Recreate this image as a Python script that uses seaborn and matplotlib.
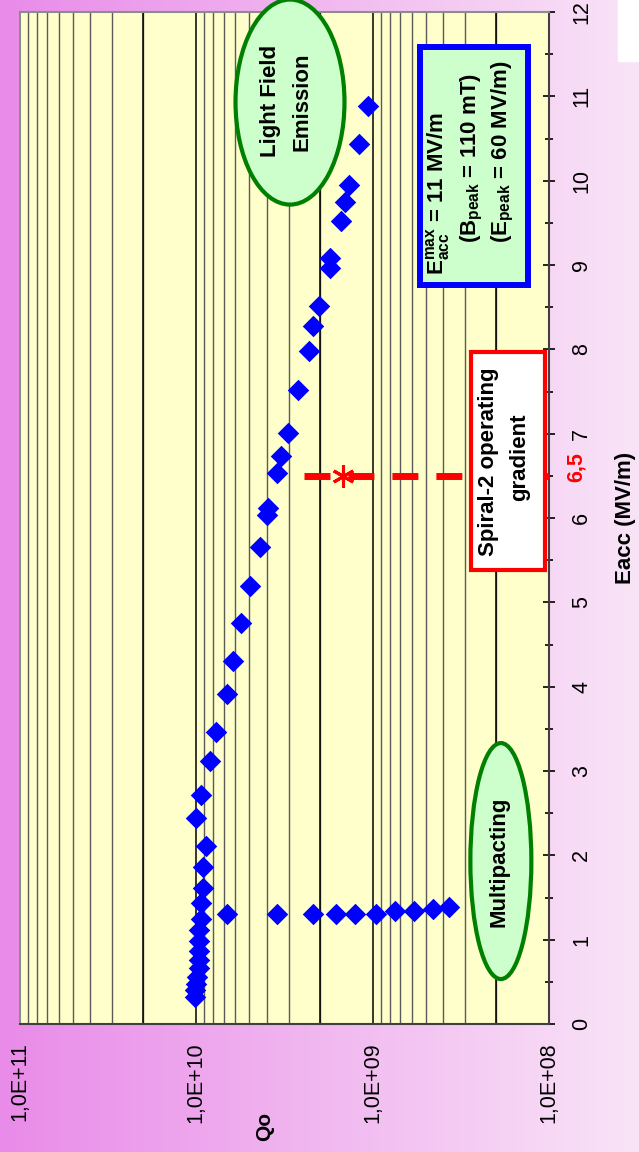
#%%
import numpy as np
import pandas as pd
import seaborn as sns
import matplotlib.pyplot as plt
import matplotlib.transforms as mtransforms
from matplotlib.patches import Ellipse, Rectangle
from matplotlib.ticker import LogLocator, MultipleLocator, FuncFormatter

# %%
# measured points, Eacc (MV/m) and Qo
eacc = [10.89, 10.44, 9.95, 9.75, 9.52, 9.08, 8.96, 8.51, 8.28, 7.98,
        7.52, 7.01, 6.74, 6.53, 6.12, 6.03, 5.66, 5.19, 4.76, 4.31,
        3.91, 3.46, 3.12, 2.71, 2.44, 2.11, 1.86, 1.61, 1.43, 1.24,
        1.11, 0.98, 0.87, 0.76, 0.66, 0.56, 0.48, 0.40, 0.32]
qo = [1.06e9, 1.20e9, 1.36e9, 1.44e9, 1.52e9, 1.75e9, 1.75e9, 2.01e9, 2.18e9, 2.31e9,
      2.65e9, 3.04e9, 3.29e9, 3.48e9, 3.92e9, 4.00e9, 4.33e9, 4.98e9, 5.57e9, 6.18e9,
      6.72e9, 7.72e9, 8.39e9, 9.35e9, 1.00e10, 8.87e9, 9.15e9, 9.15e9, 9.35e9, 9.35e9,
      9.64e9, 9.64e9, 9.64e9, 9.64e9, 9.70e9, 9.90e9, 1.00e10, 1.02e10, 1.02e10]

# multipacting barrier
eacc_mp = [1.31, 1.31, 1.31, 1.31, 1.31, 1.31, 1.34, 1.34, 1.36, 1.39]
qo_mp = [6.7e9, 3.48e9, 2.18e9, 1.62e9, 1.26e9, 9.6e8, 7.5e8, 5.8e8, 4.55e8, 3.7e8]

# operating gradient marker
op_gradient = 6.5
op_line_q = [2.46e9, 1.0e8]
op_star_q = 1.48e9

df = pd.DataFrame({'Eacc': eacc + eacc_mp, 'Qo': qo + qo_mp})

# %%
sns.set_style('white')
plt.rcParams['font.family'] = ['Liberation Sans', 'DejaVu Sans']
plt.rcParams['mathtext.fontset'] = 'custom'
plt.rcParams['mathtext.rm'] = 'Liberation Sans'
plt.rcParams['mathtext.bf'] = 'Liberation Sans:bold'
for k in ['text.color', 'axes.labelcolor', 'xtick.color', 'ytick.color']:
    plt.rcParams[k] = 'black'

fig = plt.figure(figsize=(6.39, 11.52), dpi=100)

# pink gradient background
bg = fig.add_axes([0, 0, 1, 1], zorder=-10)
t = np.linspace(0, 1, 256)[None, :, None]
c0 = np.array([233, 139, 233]) / 255
c1 = np.array([249, 228, 247]) / 255
bg.imshow(c0 * (1 - t) + c1 * t, aspect='auto', extent=[0, 1, 0, 1])
bg.add_patch(Rectangle((618 / 639, 1 - 61 / 1152), 21 / 639, 61 / 1152, color='white'))
bg.set_xlim(0, 1)
bg.set_ylim(0, 1)
bg.axis('off')

ax = fig.add_axes([20 / 639, 128 / 1152, 529 / 639, 1012 / 1152])
ax.set_facecolor('#ffffcc')

sns.scatterplot(data=df, x='Qo', y='Eacc', marker='D', color='blue', s=120,
                linewidth=0, ax=ax, zorder=3, legend=False)

ax.set_xscale('log')
ax.set_xlim(1e11, 1e8)
ax.set_ylim(0, 12)

# grid on the Qo axis
ax.xaxis.set_minor_locator(LogLocator(base=10, subs=np.arange(2, 10)))
ax.grid(which='major', axis='x', color='black', lw=1.1, zorder=1)
ax.grid(which='minor', axis='x', color='#5a5a5a', lw=1.0, zorder=1)
ax.grid(axis='y', visible=False)
for v in [2e10, 2e9, 2e8]:
    ax.axvline(v, color='black', lw=1.1, zorder=1)

ax.xaxis.set_major_formatter(FuncFormatter(lambda v, p: '1,0E+%02d' % round(np.log10(v))))
ax.tick_params(axis='x', which='major', direction='out', length=6, width=1.2,
               labelsize=15.5, labelrotation=90, pad=7)
ax.tick_params(axis='x', which='minor', length=0)

ax.yaxis.tick_right()
ax.yaxis.set_label_position('right')
ax.yaxis.set_major_locator(MultipleLocator(1))
ax.yaxis.set_minor_locator(MultipleLocator(0.5))
ax.tick_params(axis='y', which='major', direction='inout', length=8, width=1.2,
               labelsize=15.5, labelrotation=90, pad=12)
ax.tick_params(axis='y', which='minor', direction='inout', length=6, width=1.2)
for lbl in ax.get_yticklabels():
    lbl.set_verticalalignment('center')

for s in ['bottom', 'right']:
    ax.spines[s].set_color('#404040')
    ax.spines[s].set_linewidth(1.5)
for s in ['top', 'left']:
    ax.spines[s].set_color('#8c8c8c')
    ax.spines[s].set_linewidth(1.5)

ax.set_xlabel('Qo', fontsize=15, fontweight='bold', rotation=90)
ax.xaxis.set_label_coords(245 / 529, -0.087)
ax.set_ylabel('Eacc (MV/m)', fontsize=16, fontweight='bold', rotation=90)
ax.yaxis.set_label_coords(606 / 529, 0.5)
ax.yaxis.label.set_verticalalignment('center')
ax.yaxis.label.set_horizontalalignment('center')

# operating gradient
ax.plot(op_line_q, [op_gradient, op_gradient], color='red', lw=5,
        dashes=(3.74, 2.59), solid_capstyle='butt', zorder=4, clip_on=False)
ax.plot([op_star_q], [op_gradient], marker=(6, 2, 0), color='red', ms=16,
        mew=2.2, zorder=5)
blend = mtransforms.blended_transform_factory(ax.transAxes, ax.transData)
ax.text(1.051, 6.6, '6,5', transform=blend, color='red', fontsize=15.5,
        fontweight='bold', rotation=90, ha='center', va='center', clip_on=False)

# annotations
ax.add_patch(Ellipse((0.5104, 0.911), 0.206, 0.2026, transform=ax.transAxes,
                     fc='#ccffcc', ec='#008000', lw=3, zorder=5, clip_on=False))
ax.text(0.4726, 0.912, 'Light Field', transform=ax.transAxes, fontsize=16,
        fontweight='bold', rotation=90, ha='center', va='center', zorder=6)
ax.text(0.533, 0.911, 'Emission', transform=ax.transAxes, fontsize=16,
        fontweight='bold', rotation=90, ha='center', va='center', zorder=6)

ax.add_patch(Ellipse((0.909, 0.161), 0.1153, 0.2332, transform=ax.transAxes,
                     fc='#ccffcc', ec='#008000', lw=3, zorder=5))
ax.text(0.9055, 0.160, 'Multipacting', transform=ax.transAxes, fontsize=16,
        fontweight='bold', rotation=90, ha='center', va='center', zorder=6)

ax.add_patch(Rectangle((0.7561, 0.7302), 0.2042, 0.2352, transform=ax.transAxes,
                       fc='#ccffcc', ec='blue', lw=4.3, zorder=5))
box_lines = [(0.790, 0.740, r'$\mathbf{E}_{\mathbf{acc}}^{\mathbf{max}}$ = 11 MV/m'),
             (0.8544, 0.7717, r'($\mathbf{B}_{\mathbf{peak}}$ = 110 mT)'),
             (0.913, 0.7717, r'($\mathbf{E}_{\mathbf{peak}}$ = 60 MV/m)')]
for bx, by, txt in box_lines:
    ax.text(bx, by, txt, transform=ax.transAxes, fontsize=16, fontweight='bold',
            rotation=90, rotation_mode='anchor', ha='left', va='center', zorder=6)

ax.add_patch(Rectangle((0.8526, 0.4486), 0.1398, 0.2154, transform=ax.transAxes,
                       fc='white', ec='red', lw=3, zorder=5))
ax.text(0.8847, 0.5553, 'Spiral-2 operating', transform=ax.transAxes, fontsize=16,
        fontweight='bold', rotation=90, ha='center', va='center', zorder=6)
ax.text(0.9452, 0.560, 'gradient', transform=ax.transAxes, fontsize=16,
        fontweight='bold', rotation=90, ha='center', va='center', zorder=6)

plt.savefig('out.png', dpi=100)
